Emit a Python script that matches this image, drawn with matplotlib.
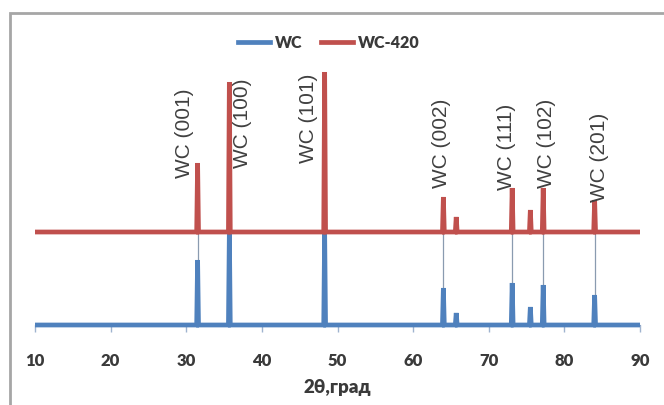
import matplotlib
matplotlib.use("Agg")
import matplotlib.pyplot as plt
from matplotlib.patches import Rectangle
from matplotlib.lines import Line2D

# ---- data ----
peak_pos = [31.5, 35.7, 48.3, 64.0, 65.7, 73.1, 75.5, 77.2, 84.0]
red_heights = [69, 150, 160, 35, 15, 44, 22, 44, 32]          # WC-420, above its own baseline
blue_heights = [65, 93, 93, 37, 12, 42, 18, 40, 30]            # WC, main body
blue_tips = [93, 93, 93, 93, 0, 93, 0, 93, 93]                 # WC, thin tips
red_offset = 93
labels = ["WC (001)", "WC (100)", "WC (101)", "WC (002)", "WC (111)", "WC (102)", "WC (201)"]
label_x = [29.8, 37.5, 46.1, 63.8, 72.4, 77.7, 84.7]
label_y = [147, 157, 162, 137, 135, 137, 123]
xticks = [10, 20, 30, 40, 50, 60, 70, 80, 90]
series_names = ["WC", "WC-420"]

BLUE = "#4F81BD"
RED = "#C0504D"

def build(pos, h, off, xmin=10, xmax=90, w=0.12):
    xs, ys = [xmin], [off]
    for p, v in zip(pos, h):
        xs += [p - w, p, p + w]
        ys += [off, off + v, off]
    xs.append(xmax)
    ys.append(off)
    return xs, ys

W, H = 664, 405
fig = plt.figure(figsize=(W / 100, H / 100), dpi=100)
fig.patch.set_facecolor("white")

# outer chart frame (partly cropped)
fig.add_artist(Rectangle((10 / W, -0.1), 1.2, (H - 13) / H + 0.1, transform=fig.transFigure,
                         fill=False, edgecolor="#A6A6A6", lw=2.0))

ax_top_px, ax_bot_px = 60, 330
ax = fig.add_axes([35 / W, (H - ax_bot_px) / H, 605 / W, (ax_bot_px - ax_top_px) / H])
ax.set_xlim(10, 90)
ax.set_ylim(-5, 265)
ax.patch.set_alpha(0)

# blue series
bx, by = build(peak_pos, blue_heights, 0)
ax.vlines([p for p, t in zip(peak_pos, blue_tips) if t > 0], 0,
          [t for t in blue_tips if t > 0], color="#8A9BB0", lw=0.9, zorder=2)
ax.plot(bx, by, color=BLUE, lw=3.4, solid_joinstyle="miter", zorder=3)

# red series
rx, ry = build(peak_pos, red_heights, red_offset)
ax.plot(rx, ry, color=RED, lw=3.4, solid_joinstyle="miter", zorder=4)

for t, x, y in zip(labels, label_x, label_y):
    ax.text(x, y, t, rotation=90, ha="center", va="bottom", fontsize=15,
            family="Liberation Sans", color="#404040", zorder=5)

for s in ["top", "right", "left"]:
    ax.spines[s].set_visible(False)
ax.spines["bottom"].set_position(("data", 0))
ax.spines["bottom"].set_color("#8EA6C8")
ax.set_yticks([])
ax.set_xticks(xticks)
ax.set_xticklabels([str(v) for v in xticks], fontfamily="Lato", fontweight="heavy",
                   fontsize=12, color="#3A3A3A")
ax.tick_params(axis="x", length=5, width=1, color="#9FB3CF", pad=15)

fig.text(337 / W, 1 - 388 / H, "2θ,град", ha="center", va="center", fontsize=13.5,
         fontweight="heavy", family="Lato", color="#3A3A3A")

handles = [Line2D([], [], color=BLUE, lw=3.4), Line2D([], [], color=RED, lw=3.4)]
fig.legend(handles, series_names, loc="center", bbox_to_anchor=(329 / W, 1 - 43 / H),
           ncol=2, frameon=False, prop={"family": "Lato", "weight": "heavy", "size": 11.5},
           handlelength=2.0, handletextpad=0.3, columnspacing=1.2, labelcolor="#3A3A3A")

fig.savefig("out.png", dpi=100, facecolor="white")
